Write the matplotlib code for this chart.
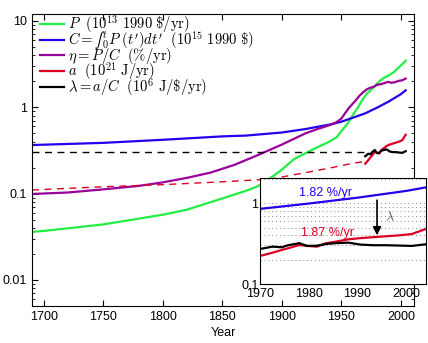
import matplotlib
matplotlib.use('Agg')
import matplotlib.pyplot as plt
from matplotlib.ticker import FuncFormatter, LogLocator, NullFormatter, FixedLocator

plt.rcParams['font.family'] = 'Liberation Sans'
plt.rcParams['mathtext.fontset'] = 'cm'
plt.rcParams['font.size'] = 9

# P: world GDP (10^13 1990 $/yr)
p_years = [1690, 1700, 1750, 1800, 1820, 1850, 1870, 1880, 1890, 1900, 1910, 1927,
           1940, 1946, 1950, 1955, 1960, 1964, 1967, 1971, 1974, 1977, 1980, 1983,
           1986, 1990, 1994, 1997, 2000, 2004]
p_vals = [0.036, 0.037, 0.044, 0.057, 0.065, 0.088, 0.108, 0.122, 0.15, 0.19, 0.25, 0.33,
          0.40, 0.45, 0.53, 0.64, 0.83, 1.0, 1.18, 1.42, 1.55, 1.70, 1.88, 2.06,
          2.2, 2.35, 2.55, 2.8, 3.05, 3.45]

# C: accumulated GDP (10^15 1990 $)
c_years = [1690, 1750, 1800, 1850, 1870, 1900, 1920, 1940, 1950, 1960, 1970, 1980, 1990, 2000, 2004]
c_vals = [0.365, 0.387, 0.42, 0.46, 0.47, 0.51, 0.56, 0.63, 0.68, 0.76, 0.85, 0.99, 1.17, 1.42, 1.57]

# eta = P/C (%/yr)
eta_years = [1690, 1720, 1750, 1780, 1800, 1820, 1840, 1860, 1880, 1900, 1910, 1920, 1930,
             1940, 1945, 1950, 1953, 1956, 1959, 1962, 1965, 1968, 1971, 1974, 1977, 1980,
             1983, 1986, 1989, 1992, 1995, 1998, 2001, 2004]
eta_vals = [0.099, 0.103, 0.112, 0.123, 0.135, 0.152, 0.175, 0.215, 0.28, 0.37, 0.43, 0.5, 0.56,
            0.62, 0.66, 0.74, 0.85, 0.97, 1.08, 1.2, 1.35, 1.48, 1.6, 1.68, 1.72, 1.82,
            1.85, 1.9, 1.97, 1.92, 1.95, 2.02, 2.05, 2.15]

# a: energy consumption, extrapolated before 1970 (dashed)
a_old_years = [1690, 1720, 1750, 1800, 1850, 1890, 1920, 1942, 1960, 1970]
a_old_vals = [0.11, 0.115, 0.12, 0.127, 0.137, 0.147, 0.175, 0.2, 0.225, 0.235]

# measured a and lambda, 1970-2004
obs_years = [1970, 1972.6, 1974.5, 1975.8, 1978.1, 1979.7, 1981.7, 1983.6, 1985.5, 1988.1,
             1990.7, 1993.3, 1995.9, 1998.5, 2001.1, 2004]
a_vals = [0.222, 0.244, 0.264, 0.277, 0.304, 0.296, 0.29, 0.32, 0.334, 0.357,
          0.37, 0.38, 0.39, 0.40, 0.415, 0.48]
lam_vals = [0.271, 0.29, 0.285, 0.302, 0.32, 0.296, 0.298, 0.313, 0.32, 0.325,
            0.307, 0.302, 0.302, 0.299, 0.296, 0.31]

# lambda assumed constant before 1970
lam_const_years = [1690, 1970]
lam_const_vals = [0.30, 0.30]

green = '#22ee44'
blue = '#2200ee'
purple = '#990099'
red = '#dd0022'

fig = plt.figure(figsize=(4.28, 3.43), dpi=100)
ax = fig.add_axes([0.0748, 0.108, 0.8925, 0.851])

lw = 1.6
ax.plot(p_years, p_vals, color=green, lw=lw, label=r'$P\ \ (10^{13}\ 1990\ \$/\mathrm{yr})$')
ax.plot(c_years, c_vals, color=blue, lw=lw,
        label=r"$C=∫_0^t P\ (t')dt'\ \ (10^{15}\ 1990\ \$)$")
ax.plot(eta_years, eta_vals, color=purple, lw=lw, label=r'$\eta=P/C\ \ (\%/\mathrm{yr})$')
ax.plot(obs_years, a_vals, color=red, lw=lw, label=r'$a\ \ (10^{21}\ \mathrm{J/yr})$')
ax.plot(obs_years, lam_vals, color='black', lw=lw, label=r'$\lambda=a/C\ \ (10^{6}\ \mathrm{J/\$/yr})$')
ax.plot(a_old_years, a_old_vals, color=red, lw=1.0, ls=(0, (5, 4)))
ax.plot(lam_const_years, lam_const_vals, color='black', lw=1.0, ls=(0, (5, 4)))

ax.set_yscale('log')
ax.set_xlim(1690, 2011)
ax.set_ylim(0.005, 12)
ax.set_xticks([1700, 1750, 1800, 1850, 1900, 1950, 2000])
ax.yaxis.set_major_locator(LogLocator(base=10))
ax.yaxis.set_minor_locator(LogLocator(base=10, subs=range(2, 10)))
ax.yaxis.set_minor_formatter(NullFormatter())
ax.yaxis.set_major_formatter(FuncFormatter(lambda v, pos: '{:g}'.format(v)))
ax.tick_params(which='both', direction='in', top=True, right=True, labelsize=9)
ax.tick_params(which='major', length=4)
ax.tick_params(which='minor', length=2)
ax.set_xlabel('Year', fontsize=9, labelpad=3)

leg = ax.legend(loc='upper left', bbox_to_anchor=(0.012, 1.012), frameon=False, fontsize=10.5,
                handlelength=1.65, handletextpad=0.27, labelspacing=-0.4,
                borderaxespad=0, borderpad=0.2)

# inset
ax2 = fig.add_axes([0.607, 0.172, 0.388, 0.309])
ax2.set_facecolor('white')
ax2.plot(c_years, c_vals, color=blue, lw=lw)
ax2.plot(obs_years, a_vals, color=red, lw=lw)
ax2.plot(obs_years, lam_vals, color='black', lw=lw)
ax2.set_yscale('log')
ax2.set_xlim(1970, 2004)
ax2.set_ylim(0.1, 2.05)
ax2.set_xticks([1970, 1980, 1990, 2000])
ax2.yaxis.set_major_locator(FixedLocator([0.1, 1]))
ax2.yaxis.set_minor_locator(LogLocator(base=10, subs=range(2, 10)))
ax2.yaxis.set_minor_formatter(NullFormatter())
ax2.yaxis.set_major_formatter(FuncFormatter(lambda v, pos: '{:g}'.format(v)))
ax2.tick_params(which='both', direction='in', length=0, labelsize=9, pad=1)
ax2.tick_params(axis='x', pad=3)
ax2.yaxis.grid(True, which='both', ls=(0, (1, 3)), color='#888888', lw=0.7)
ax2.text(1983.4, 1.34, '1.82 %/yr', color=blue, ha='center', va='center', fontsize=9)
ax2.text(1983.8, 0.43, '1.87 %/yr', color=red, ha='center', va='center', fontsize=9)
ax2.annotate('', xy=(1994, 0.37), xytext=(1994, 1.18),
             arrowprops=dict(arrowstyle='-|>', color='black', lw=1.2, mutation_scale=12))
ax2.text(1996.6, 0.67, r'$\lambda$', color='#555555', ha='center', va='center', fontsize=10)

fig.savefig('out.png', dpi=100)
